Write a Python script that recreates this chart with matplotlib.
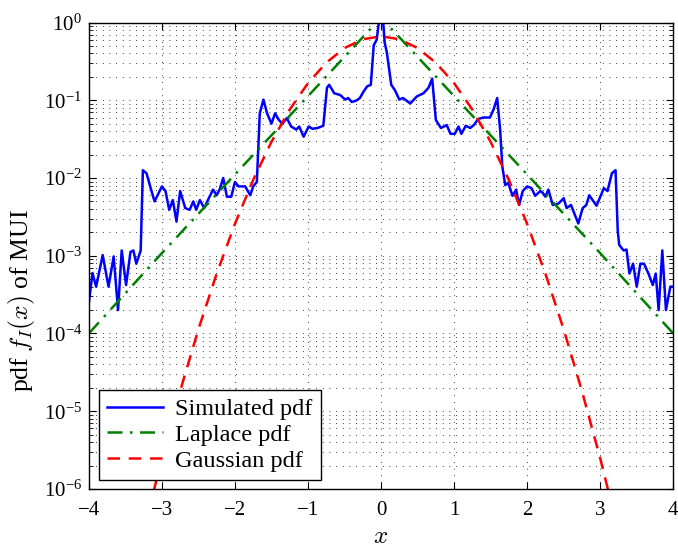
import matplotlib
matplotlib.use("Agg")
import matplotlib.pyplot as plt
from matplotlib.ticker import LogLocator, NullFormatter

plt.rcParams['font.family'] = 'serif'
plt.rcParams['font.serif'] = ['Liberation Serif', 'DejaVu Serif']
plt.rcParams['mathtext.fontset'] = 'cm'

# Simulated pdf
sim_x = [-4.00, -3.95, -3.90, -3.81, -3.73, -3.66, -3.60, -3.55, -3.49, -3.43,
         -3.39, -3.35, -3.29, -3.26, -3.21, -3.16, -3.10, -3.00, -2.95, -2.90,
         -2.85, -2.80, -2.75, -2.68, -2.62, -2.57, -2.53, -2.48, -2.42, -2.37,
         -2.30, -2.25, -2.21, -2.16, -2.11, -2.05, -2.00, -1.95, -1.86, -1.79,
         -1.75, -1.70, -1.66, -1.61, -1.56, -1.50, -1.45, -1.40, -1.35, -1.29,
         -1.23, -1.16, -1.12, -1.06, -0.99, -0.94, -0.87, -0.79, -0.74, -0.71,
         -0.64, -0.56, -0.49, -0.45, -0.40, -0.33, -0.29, -0.24, -0.19, -0.14,
         -0.10, -0.06, -0.03, 0.00, 0.03, 0.05, 0.08, 0.14, 0.19, 0.25,
         0.30, 0.40, 0.49, 0.58, 0.65, 0.70, 0.75, 0.82, 0.90, 0.95,
         1.01, 1.06, 1.10, 1.16, 1.22, 1.27, 1.33, 1.40, 1.49, 1.54,
         1.59, 1.63, 1.66, 1.70, 1.74, 1.80, 1.85, 1.89, 1.94, 2.00,
         2.06, 2.11, 2.18, 2.21, 2.25, 2.29, 2.35, 2.43, 2.50, 2.54,
         2.60, 2.70, 2.76, 2.81, 2.85, 2.95, 3.05, 3.10, 3.16, 3.21,
         3.24, 3.26, 3.32, 3.36, 3.40, 3.45, 3.50, 3.55, 3.60, 3.66,
         3.72, 3.76, 3.80, 3.85, 3.90, 3.96, 4.00]
sim_y = [2.45e-4, 6.0e-4, 4.0e-4, 1.02e-3, 4.0e-4, 9.8e-4, 2.0e-4, 1.17e-3, 4.2e-4, 1.12e-3,
         1.17e-3, 7.9e-4, 1.17e-3, 1.26e-2, 1.15e-2, 7.8e-3, 5.0e-3, 7.8e-3, 6.8e-3, 3.9e-3,
         5.2e-3, 2.75e-3, 6.8e-3, 4.1e-3, 3.9e-3, 5.0e-3, 3.9e-3, 5.2e-3, 4.1e-3, 5.2e-3,
         7.1e-3, 6.0e-3, 7.1e-3, 1.0e-2, 5.75e-3, 5.75e-3, 8.9e-3, 7.8e-3, 7.8e-3, 6.0e-3,
         7.8e-3, 8.9e-3, 6.8e-2, 0.102, 6.8e-2, 5.0e-2, 6.8e-2, 5.6e-2, 5.0e-2, 5.9e-2,
         4.6e-2, 4.2e-2, 4.6e-2, 3.4e-2, 4.6e-2, 4.3e-2, 4.4e-2, 4.7e-2, 0.145, 0.158,
         0.123, 0.117, 0.102, 0.107, 0.095, 0.100, 0.107, 0.129, 0.151, 0.158,
         0.51, 0.60, 1.0, 1.1, 1.0, 0.55, 0.41, 0.158, 0.135, 0.102,
         0.107, 0.091, 0.112, 0.123, 0.145, 0.19, 5.6e-2, 4.4e-2, 4.8e-2, 3.7e-2,
         3.7e-2, 4.6e-2, 3.7e-2, 4.7e-2, 4.4e-2, 4.8e-2, 5.75e-2, 6.0e-2, 6.0e-2, 7.6e-2,
         0.107, 4.2e-2, 1.41e-2, 8.1e-3, 8.7e-3, 5.9e-3, 7.1e-3, 4.5e-3, 6.8e-3, 7.8e-3,
         7.4e-3, 5.9e-3, 6.8e-3, 6.5e-3, 5.75e-3, 7.1e-3, 4.5e-3, 4.7e-3, 5.5e-3, 4.1e-3,
         4.5e-3, 2.6e-3, 4.1e-3, 4.5e-3, 6.0e-3, 4.4e-3, 7.4e-3, 6.8e-3, 1.15e-2, 1.26e-2,
         2.1e-3, 1.38e-3, 1.17e-3, 1.2e-3, 5.9e-4, 7.9e-4, 4.0e-4, 7.9e-4, 7.9e-4, 5.9e-4,
         4.2e-4, 5.9e-4, 2.0e-4, 1.17e-3, 2.0e-4, 4.0e-4, 4.0e-4]

# Laplace pdf (straight on the log axis)
lap_x = [-4, -3, -2, -1, 0, 1, 2, 3, 4]
lap_y = [1.0e-4, 1.08e-3, 1.11e-2, 0.113, 1.16, 0.113, 1.11e-2, 1.08e-3, 1.0e-4]

# Gaussian pdf
gau_x = [-3.25, -3.0, -2.75, -2.5, -2.25, -2.0, -1.75, -1.5, -1.25, -1.0, -0.75, -0.5, -0.25,
         0.0, 0.25, 0.5, 0.75, 1.0, 1.25, 1.5, 1.75, 2.0, 2.25, 2.5, 2.75, 3.0, 3.25]
gau_y = [2.83e-7, 2.48e-6, 1.82e-5, 1.13e-4, 5.88e-4, 2.57e-3, 9.46e-3, 2.92e-2, 7.59e-2, 0.166,
         0.304, 0.470, 0.610, 0.665, 0.610, 0.470, 0.304, 0.166, 7.59e-2, 2.92e-2, 9.46e-3,
         2.57e-3, 5.88e-4, 1.13e-4, 1.82e-5, 2.48e-6, 2.83e-7]

fig = plt.figure(figsize=(6.78, 5.5), dpi=100)
ax = fig.add_axes([0.131, 0.111, 0.862, 0.848])

ax.semilogy(sim_x, sim_y, color=(0, 0, 1), lw=1.8, label='Simulated pdf')
ax.semilogy(lap_x, lap_y, color=(0, 0.5, 0), lw=1.8, linestyle=(0, (6, 3, 1, 3)), label='Laplace pdf')
ax.semilogy(gau_x, gau_y, color=(1, 0, 0), lw=1.8, linestyle=(0, (5, 3.5)), label='Gaussian pdf')

ax.set_xlim(-4, 4)
ax.set_ylim(1e-6, 1)
ax.set_xticks(range(-4, 5))
ax.yaxis.set_major_locator(LogLocator(base=10, numticks=10))
ax.yaxis.set_minor_locator(LogLocator(base=10, subs=range(2, 10), numticks=20))
ax.yaxis.set_minor_formatter(NullFormatter())

grid_style = dict(color='black', linestyle=(0, (1, 7)), linewidth=0.6)
ax.grid(True, which='major', **grid_style)
ax.grid(True, which='minor', axis='y', **grid_style)

ax.tick_params(which='both', direction='in', top=True, right=True, labelsize=15)
ax.tick_params(which='major', length=5)
ax.tick_params(which='minor', length=3)
ax.tick_params(axis='x', pad=9)
ax.tick_params(axis='y', pad=5)
for s in ax.spines.values():
    s.set_linewidth(1.0)

ax.set_xlabel('$x$', fontsize=18)
ax.xaxis.set_label_coords(0.5, -0.08)
ax.set_ylabel('pdf $f_I(x)$ of MUI', fontsize=18.5)
ax.yaxis.set_label_coords(-0.088, 0.405)

leg = ax.legend(loc='lower left', bbox_to_anchor=(0.017, 0.019), fontsize=17.5,
                fancybox=False, framealpha=1, edgecolor='black', handlelength=2.3,
                borderpad=0.35, labelspacing=0.15, handletextpad=0.5, borderaxespad=0)
leg.get_frame().set_linewidth(1.0)

fig.savefig('out.png', dpi=100)
